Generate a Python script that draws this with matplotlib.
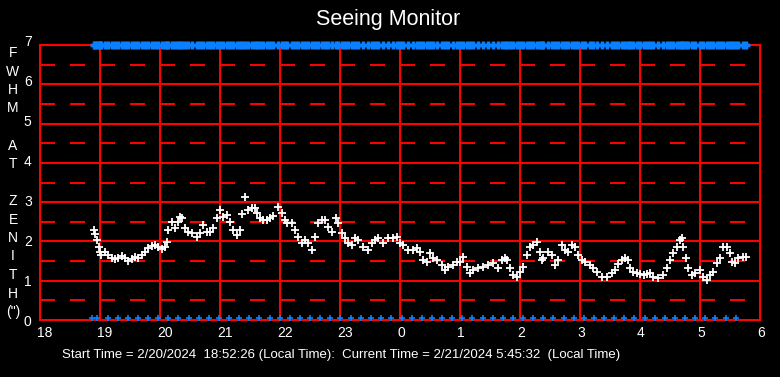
import matplotlib
matplotlib.use("Agg")
import matplotlib.pyplot as plt
from matplotlib.transforms import ScaledTranslation

# minutes after 18:00 for each FWHM sample
minutes = [54, 55, 57, 59, 60, 61, 65, 68, 72, 75, 78, 82, 85, 88, 92, 95, 98, 102, 105, 108,
           112, 115, 118, 122, 125, 127, 128, 132, 135, 138, 140, 142, 145, 148, 152, 157, 160, 163, 167, 170,
           173, 177, 180, 183, 187, 190, 193, 197, 200, 202, 205, 208, 212, 215, 217, 220, 223, 227, 230, 233,
           238, 242, 245, 247, 252, 255, 258, 262, 265, 268, 272, 275, 278, 282, 285, 288, 292, 296, 298, 302,
           305, 308, 312, 315, 318, 323, 328, 332, 335, 338, 343, 348, 353, 357, 360, 363, 368, 373, 377, 380,
           383, 387, 390, 393, 397, 402, 405, 408, 413, 417, 420, 423, 427, 430, 433, 438, 443, 448, 453, 458,
           462, 465, 467, 470, 473, 477, 480, 483, 487, 490, 493, 497, 500, 502, 503, 508, 512, 515, 518, 522,
           525, 528, 532, 535, 538, 542, 545, 550, 553, 557, 562, 567, 572, 575, 578, 582, 585, 588, 590, 593,
           597, 600, 604, 607, 610, 613, 618, 623, 627, 630, 633, 637, 640, 642, 643, 646, 648, 652, 655, 660,
           663, 667, 670, 673, 677, 680, 683, 687, 690, 692, 695, 698, 703, 706]

fwhm = [2.29, 2.19, 2.04, 1.86, 1.73, 1.65, 1.73, 1.65, 1.58, 1.55, 1.58, 1.63, 1.58, 1.50, 1.55, 1.60, 1.58, 1.65, 1.73, 1.83,
        1.88, 1.91, 1.86, 1.81, 1.86, 1.99, 2.29, 2.49, 2.34, 2.49, 2.62, 2.60, 2.34, 2.24, 2.21, 2.11, 2.21, 2.42, 2.24, 2.24,
        2.34, 2.60, 2.80, 2.62, 2.67, 2.49, 2.29, 2.16, 2.29, 2.70, 3.13, 2.80, 2.85, 2.85, 2.72, 2.60, 2.55, 2.55, 2.60, 2.65,
        2.88, 2.72, 2.55, 2.47, 2.47, 2.29, 2.11, 1.96, 2.04, 1.96, 1.78, 2.11, 2.47, 2.55, 2.55, 2.37, 2.24, 2.60, 2.47, 2.21,
        2.09, 1.96, 1.91, 2.09, 2.04, 1.86, 1.78, 1.96, 2.04, 2.09, 1.96, 2.09, 2.09, 2.11, 1.96, 1.91, 1.78, 1.78, 1.83, 1.73,
        1.53, 1.48, 1.71, 1.58, 1.53, 1.40, 1.27, 1.35, 1.40, 1.48, 1.48, 1.60, 1.35, 1.20, 1.27, 1.32, 1.35, 1.40, 1.45, 1.32,
        1.53, 1.58, 1.53, 1.32, 1.15, 1.09, 1.22, 1.35, 1.65, 1.86, 1.91, 1.99, 1.73, 1.53, 1.58, 1.73, 1.65, 1.40, 1.53, 1.91,
        1.78, 1.73, 1.91, 1.86, 1.65, 1.53, 1.48, 1.40, 1.32, 1.22, 1.09, 1.09, 1.20, 1.27, 1.43, 1.53, 1.58, 1.53, 1.32, 1.22,
        1.20, 1.17, 1.15, 1.17, 1.20, 1.09, 1.07, 1.15, 1.32, 1.53, 1.71, 1.86, 2.04, 2.09, 1.86, 1.58, 1.32, 1.15, 1.20, 1.27,
        1.09, 1.02, 1.15, 1.22, 1.45, 1.58, 1.86, 1.86, 1.71, 1.48, 1.45, 1.58, 1.60, 1.60]

# minutes after 18:00 of the blue markers along the bottom
bottom_minutes = [52, 57, 68, 78, 88, 98, 108, 118, 128, 138, 149, 159, 169, 179, 189, 199, 209, 219,
                  230, 240, 250, 260, 270, 280, 290, 300, 311, 321, 331, 341, 351, 362, 372, 382, 392, 402,
                  412, 422, 432, 443, 453, 463, 473, 483, 493, 503, 513, 524, 534, 544, 554, 564, 574, 584,
                  594, 605, 615, 625, 635, 645, 655, 665, 675, 686, 696]

x_ticks = [18, 19, 20, 21, 22, 23, 24, 25, 26, 27, 28, 29, 30]
x_ticklabels = ["18", "19", "20", "21", "22", "23", "0", "1", "2", "3", "4", "5", "6"]
y_ticks = [0, 1, 2, 3, 4, 5, 6, 7]
y_label_letters = ["F", "W", "H", "M", "", "A", "T", "", "Z", "E", "N", "I", "T", "H", "(\")"]

title = "Seeing Monitor"
footer = "Start Time = 2/20/2024  18:52:26 (Local Time):  Current Time = 2/21/2024 5:45:32  (Local Time)"

plt.rcParams['font.family'] = ['Liberation Sans', 'DejaVu Sans']

W, H = 780, 377
fig = plt.figure(figsize=(W / 100, H / 100), dpi=100, facecolor="black")
ax = fig.add_axes([40 / W, (H - 320) / H, 720 / W, 275 / H])
ax.set_facecolor("black")

red = "#ff0000"
blue = "#0a80ff"
lw = 1.5

hours = [18 + m / 60 for m in minutes]
bottom_hours = [18 + m / 60 for m in bottom_minutes]

ax.set_xlim(18, 30)
ax.set_ylim(0, 7)

# grid
for yv in range(1, 7):
    ax.axhline(yv, color=red, lw=lw, zorder=1)
for yv in [0.5, 1.5, 2.5, 3.5, 4.5, 5.5, 6.5]:
    ax.axhline(yv, color=red, lw=lw, dashes=(10 * 0.72, 10 * 0.72), zorder=1)
for xv in x_ticks[1:-1]:
    ax.axvline(xv, color=red, lw=lw, zorder=1)
for s in ax.spines.values():
    s.set_color(red)
    s.set_linewidth(lw)

# data
ax.plot(hours, fwhm, linestyle="none", marker="+", color="white", markersize=6,
        markeredgewidth=1.3, zorder=3)
ax.plot(hours, [7] * len(hours), linestyle="none", marker="+", color=blue, markersize=6,
        markeredgewidth=2.5, zorder=4, clip_on=False)
ax.plot(bottom_hours, [0.05] * len(bottom_hours), linestyle="none", marker="+", color=blue,
        markersize=5, markeredgewidth=1.2, zorder=4, clip_on=False)

ax.set_xticks(x_ticks)
ax.set_xticklabels(x_ticklabels)
ax.set_yticks(y_ticks)
ax.tick_params(colors="white", length=0, labelsize=10, pad=4)
ax.tick_params(axis="y", pad=6)
for lab in ax.get_xticklabels():
    lab.set_color("white")
    lab.set_horizontalalignment("left")
    lab.set_transform(lab.get_transform() + ScaledTranslation(-3 / 100, 0, fig.dpi_scale_trans))
for lab, v in zip(ax.get_yticklabels(), y_ticks):
    lab.set_color("white")
    lab.set_transform(lab.get_transform() + ScaledTranslation(0, 0.7 * v / 100, fig.dpi_scale_trans))

fig.text(388 / W, 1 - 20 / H, title, color="white", fontsize=15.5, ha="center", va="center")

y0 = 53
step = 18.5
for i, letter in enumerate(y_label_letters):
    if letter:
        fig.text(13 / W, 1 - (y0 + i * step) / H, letter, color="white", fontsize=10,
                 ha="center", va="center")

fig.text(62 / W, 1 - 355 / H, footer, color="white", fontsize=9.5, ha="left", va="center")

fig.savefig("out.png", dpi=100, facecolor="black")
